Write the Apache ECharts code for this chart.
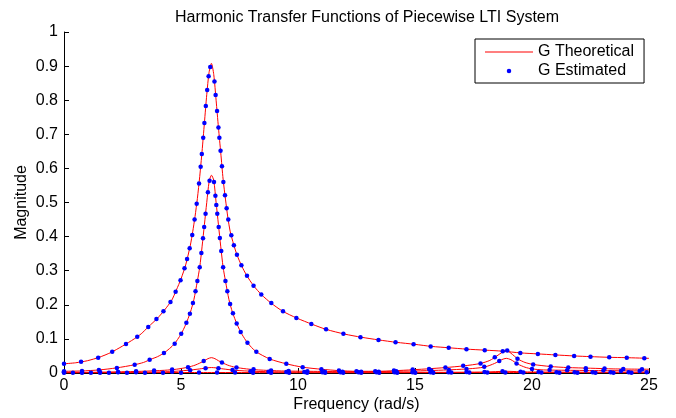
<!DOCTYPE html>
<html>
<head>
<meta charset="utf-8">
<script src="https://cdn.jsdelivr.net/npm/echarts@6/dist/echarts.min.js"></script>
<style>
html,body{margin:0;padding:0;background:#fff;}
#chart{width:676px;height:418px;}
</style>
</head>
<body>
<div id="chart"></div>
<script>
const chartTitle = 'Harmonic Transfer Functions of Piecewise LTI System';
const xLabel = 'Frequency (rad/s)';
const yLabel = 'Magnitude';
const nameTheory = 'G Theoretical';
const nameEst = 'G Estimated';

const theoryA = [[0,0.027],[0.5,0.030],[1,0.036],[1.5,0.046],[2,0.060],[2.5,0.079],[3,0.100],[3.3,0.115],[3.6,0.135],[4,0.161],[4.3,0.185],[4.6,0.213],[4.8,0.243],[5,0.276],[5.2,0.317],[5.4,0.375],[5.5,0.414],[5.6,0.459],[5.7,0.512],[5.8,0.576],[5.9,0.65],[6,0.733],[6.1,0.816],[6.2,0.882],[6.3,0.908],[6.4,0.875],[6.5,0.80],[6.6,0.72],[6.7,0.645],[6.8,0.568],[6.9,0.51],[7,0.457],[7.1,0.416],[7.25,0.377],[7.4,0.345],[7.6,0.313],[7.8,0.287],[8.1,0.256],[8.45,0.229],[8.85,0.205],[9.35,0.181],[9.95,0.161],[10.6,0.143],[11.2,0.128],[12,0.114],[12.7,0.105],[13.45,0.097],[14.2,0.09],[15,0.084],[15.7,0.078],[16.45,0.074],[17.2,0.07],[18,0.067],[18.75,0.064],[19.5,0.059],[20.25,0.056],[21,0.053],[21.8,0.05],[22.5,0.048],[23.3,0.046],[24,0.045],[25,0.043]];
const estA = [[0,0.027],[0.73,0.033],[1.46,0.045],[2.06,0.062],[2.65,0.085],[3.13,0.106],[3.6,0.135],[3.95,0.158],[4.25,0.181],[4.55,0.208],[4.77,0.238],[4.98,0.272],[5.15,0.307],[5.26,0.334],[5.37,0.366],[5.48,0.405],[5.58,0.45],[5.67,0.496],[5.77,0.556],[5.84,0.605],[5.89,0.642],[5.95,0.69],[6.0,0.733],[6.06,0.783],[6.12,0.83],[6.18,0.87],[6.25,0.897],[6.43,0.855],[6.48,0.815],[6.54,0.768],[6.6,0.72],[6.64,0.69],[6.69,0.652],[6.75,0.606],[6.81,0.56],[6.88,0.521],[6.95,0.483],[7.02,0.45],[7.15,0.404],[7.26,0.375],[7.39,0.347],[7.58,0.316],[7.82,0.285],[8.1,0.256],[8.43,0.23],[8.86,0.205],[9.36,0.181],[9.93,0.161],[10.57,0.144],[11.2,0.128],[11.94,0.115],[12.67,0.105],[13.44,0.097],[14.17,0.09],[14.94,0.084],[15.67,0.078],[16.44,0.074],[17.2,0.07],[17.98,0.067],[18.75,0.064],[19.5,0.059],[20.25,0.056],[21,0.053],[21.8,0.05],[22.5,0.048],[23.3,0.046],[24.05,0.045],[24.8,0.043]];

const theoryB = [[0,0.005],[0.75,0.006],[1.5,0.009],[2.25,0.015],[3,0.024],[3.4,0.031],[3.7,0.04],[4,0.048],[4.3,0.06],[4.7,0.084],[5,0.114],[5.2,0.142],[5.4,0.178],[5.55,0.215],[5.7,0.27],[5.8,0.31],[5.9,0.37],[6,0.435],[6.1,0.5],[6.2,0.56],[6.3,0.58],[6.4,0.565],[6.5,0.5],[6.6,0.435],[6.7,0.37],[6.8,0.31],[6.9,0.27],[7.05,0.215],[7.2,0.178],[7.4,0.142],[7.6,0.114],[7.85,0.088],[8.2,0.063],[8.8,0.041],[9.5,0.027],[10.2,0.017],[11,0.011],[11.75,0.007],[12.5,0.005],[13.5,0.005],[14.5,0.008],[15.5,0.012],[16.3,0.016],[17.1,0.021],[17.8,0.028],[18.2,0.037],[18.5,0.05],[18.75,0.062],[18.9,0.067],[19.1,0.058],[19.4,0.041],[19.7,0.031],[20.05,0.025],[20.8,0.019],[21.5,0.016],[22.5,0.014],[23.5,0.012],[25,0.011]];
const estB = [[0,0.005],[0.77,0.006],[1.49,0.009],[2.26,0.015],[3.02,0.024],[3.66,0.039],[4.27,0.059],[4.73,0.086],[5.01,0.115],[5.23,0.147],[5.38,0.174],[5.51,0.205],[5.62,0.24],[5.7,0.27],[5.8,0.31],[5.87,0.352],[5.94,0.395],[5.99,0.428],[6.05,0.467],[6.15,0.53],[6.22,0.564],[6.41,0.56],[6.47,0.52],[6.51,0.493],[6.55,0.467],[6.61,0.428],[6.66,0.396],[6.72,0.358],[6.8,0.31],[6.9,0.27],[6.98,0.24],[7.1,0.202],[7.22,0.175],[7.38,0.145],[7.55,0.12],[7.84,0.089],[8.22,0.062],[8.79,0.041],[9.5,0.027],[10.2,0.017],[11.0,0.011],[11.75,0.007],[12.5,0.005],[13.3,0.005],[14.1,0.007],[14.9,0.01],[15.6,0.012],[16.3,0.016],[17.06,0.021],[17.8,0.028],[18.41,0.046],[18.94,0.066],[19.38,0.042],[20.05,0.025],[20.8,0.019],[21.55,0.016],[22.3,0.014],[23.1,0.013],[23.9,0.012],[24.7,0.011]];

const theoryC = [[0,0.002],[1,0.002],[2,0.003],[3.3,0.005],[4.3,0.008],[4.8,0.011],[5.3,0.017],[5.6,0.023],[5.8,0.029],[6,0.036],[6.15,0.042],[6.3,0.045],[6.45,0.042],[6.6,0.036],[6.8,0.029],[7,0.023],[7.3,0.017],[7.8,0.012],[8.3,0.009],[9.3,0.006],[10.5,0.005],[12,0.004],[13,0.004],[14,0.005],[15,0.006],[16,0.008],[17,0.011],[17.6,0.014],[18,0.018],[18.4,0.028],[18.7,0.039],[18.9,0.043],[19.1,0.039],[19.4,0.026],[19.7,0.017],[20,0.012],[20.5,0.009],[21.5,0.008],[23,0.007],[25,0.006]];
const estC = [[0,0.002],[0.77,0.002],[1.54,0.003],[2.31,0.003],[3.08,0.005],[3.85,0.007],[4.62,0.01],[5.3,0.017],[5.97,0.035],[6.75,0.031],[7.37,0.016],[8.1,0.011],[8.85,0.007],[9.6,0.006],[10.4,0.005],[11.15,0.004],[11.9,0.004],[12.7,0.004],[13.45,0.004],[14.2,0.005],[14.95,0.006],[15.7,0.007],[16.45,0.009],[17.2,0.012],[17.96,0.018],[18.6,0.035],[19.34,0.028],[20.0,0.012],[20.75,0.009],[21.5,0.008],[22.3,0.007],[23.05,0.007],[23.8,0.006],[24.6,0.006]];

const theoryD = [[0,0.001],[3,0.002],[4.5,0.004],[5.3,0.008],[5.8,0.012],[6.1,0.015],[6.3,0.016],[6.5,0.015],[6.8,0.012],[7.3,0.008],[8.1,0.005],[9.5,0.003],[12,0.002],[16,0.002],[18,0.003],[18.9,0.005],[19.8,0.003],[25,0.002]];
const estD = [[0,0.001],[0.77,0.001],[1.54,0.001],[2.31,0.002],[3.08,0.002],[3.85,0.003],[4.62,0.004],[5.39,0.008],[6.05,0.014],[6.6,0.014],[7.2,0.009],[7.97,0.005],[8.74,0.004],[9.5,0.003],[10.27,0.003],[11.04,0.002],[11.81,0.002],[12.58,0.002],[13.35,0.002],[14.12,0.002],[14.89,0.002],[15.66,0.002],[16.43,0.002],[17.2,0.003],[17.97,0.003],[18.74,0.005],[19.51,0.004],[20.28,0.003],[21.05,0.002],[21.82,0.002],[22.59,0.002],[23.36,0.002],[24.13,0.002],[24.9,0.002]];

const theoryE = [[0,0.0005],[6.3,0.0015],[12,0.0005],[18.9,0.0015],[25,0.0005]];
const estE = [[0.38,0.0005],[1.15,0.0005],[1.92,0.0005],[2.69,0.0005],[3.46,0.0006],[4.23,0.0008],[5.0,0.001],[5.77,0.0013],[6.54,0.0014],[7.31,0.0011],[8.08,0.0009],[8.85,0.0008],[9.62,0.0007],[10.39,0.0006],[11.16,0.0005],[11.93,0.0005],[12.7,0.0006],[13.47,0.0007],[14.24,0.0008],[15.01,0.0009],[15.78,0.001],[16.55,0.0011],[17.32,0.0012],[18.09,0.0013],[18.86,0.0015],[19.63,0.0013],[20.4,0.0011],[21.17,0.001],[21.94,0.0009],[22.71,0.0008],[23.48,0.0007],[24.25,0.0006]];

const xTickStep = 5;
const yTickStep = 0.1;

const theorySets = [theoryA, theoryB, theoryC, theoryD, theoryE];
const estSets = [estA, estB, estC, estD, estE];

const FONT = '"Liberation Sans", Arial, Helvetica, sans-serif';
const FS = 16;
const RED = '#ff0000';
const BLUE = '#0000ff';

const series = [];
theorySets.forEach(function (d) {
  series.push({
    name: nameTheory, type: 'line', data: d, symbol: 'none', smooth: 0.25,
    lineStyle: { color: RED, width: 1 }, itemStyle: { color: RED }, z: 2, silent: true
  });
});
estSets.forEach(function (d) {
  series.push({
    name: nameEst, type: 'scatter', data: d, symbol: 'circle', symbolSize: 4.5,
    itemStyle: { color: BLUE, opacity: 1 }, z: 3, silent: true
  });
});

const chart = echarts.init(document.getElementById('chart'), null, { renderer: 'canvas' });
chart.setOption({
  animation: false,
  backgroundColor: '#ffffff',
  title: {
    text: chartTitle, left: 362, top: 5, textAlign: 'center',
    textStyle: { fontFamily: FONT, fontSize: FS, fontWeight: 'normal', color: '#000' }
  },
  legend: {
    data: [
      { name: nameTheory, icon: 'path://M0,0 L48,0 L48,1 L0,1 Z', itemStyle: { color: RED } },
      { name: nameEst, icon: 'circle', itemStyle: { color: BLUE, opacity: 1 } }
    ],
    orient: 'vertical', left: 475, top: 39,
    padding: [5, 10, 4, 10], itemGap: 3,
    itemWidth: 48, itemHeight: 4.5,
    borderColor: '#000', borderWidth: 1, backgroundColor: '#fff',
    textStyle: { fontFamily: FONT, fontSize: FS, color: '#000' },
    selectedMode: false
  },
  grid: { left: 64, right: 27, top: 32, bottom: 42, containLabel: false },
  xAxis: {
    type: 'value', min: 0, max: 25, interval: xTickStep,
    name: xLabel, nameLocation: 'middle', nameGap: 24, nameMoveOverlap: false,
    nameTextStyle: { fontFamily: FONT, fontSize: FS, color: '#000' },
    axisLine: { show: true, onZero: false, lineStyle: { color: '#000', width: 1 } },
    axisTick: { show: true, inside: true, length: 5, lineStyle: { color: '#000' } },
    axisLabel: { fontFamily: FONT, fontSize: FS, color: '#000', margin: 5 },
    splitLine: { show: false }
  },
  yAxis: {
    type: 'value', min: 0, max: 1, interval: yTickStep,
    name: yLabel, nameLocation: 'middle', nameGap: 34, nameMoveOverlap: false,
    nameTextStyle: { fontFamily: FONT, fontSize: FS, color: '#000' },
    axisLine: { show: true, onZero: false, lineStyle: { color: '#000', width: 1 } },
    axisTick: { show: true, inside: true, length: 5, lineStyle: { color: '#000' } },
    axisLabel: { fontFamily: FONT, fontSize: FS, color: '#000', margin: 6,
      formatter: function (v) { return String(Math.round(v * 10) / 10); } },
    splitLine: { show: false }
  },
  series: series
});
</script>
</body>
</html>
